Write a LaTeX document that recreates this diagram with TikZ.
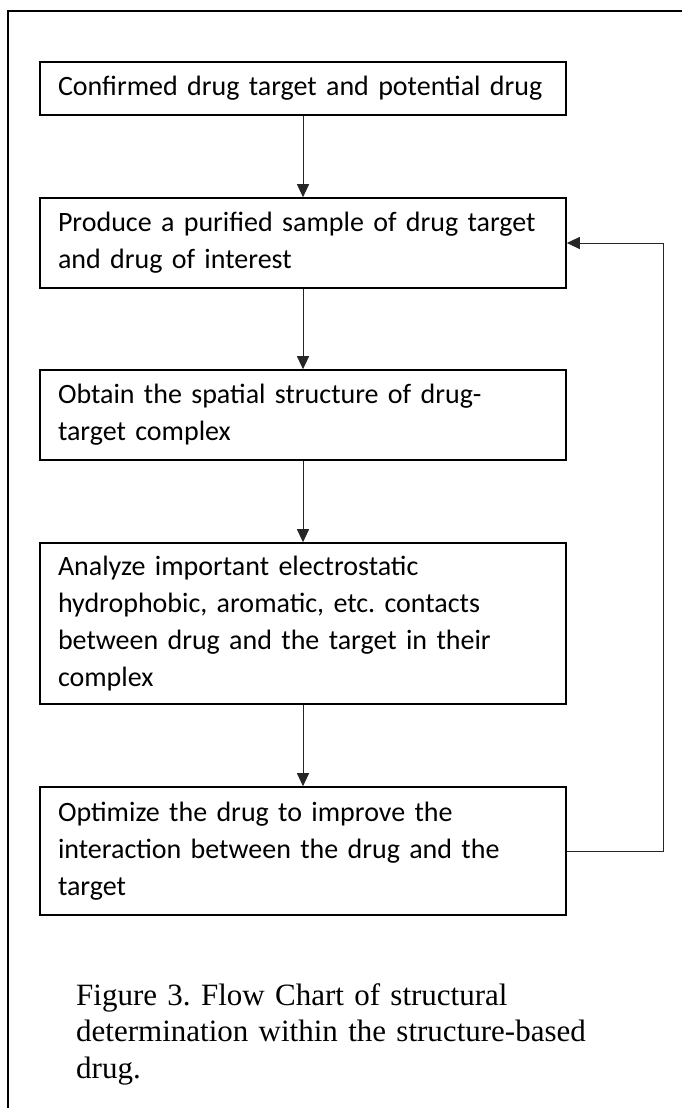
\documentclass[tikz,border=0pt]{standalone}
\usepackage{fontspec}
\newfontfamily\boxfont{Carlito}
\newfontfamily\capfont{Liberation Serif}
\usetikzlibrary{arrows.meta}
\frenchspacing
\begin{document}
\begin{tikzpicture}[x=1pt,y=-1pt,
  stepbox/.style={draw=black, line width=1.6pt, rectangle, minimum width=526pt,
    text width=490pt, inner xsep=18pt, inner ysep=0pt, align=left,
    font=\boxfont\fontsize{28}{36.7}\selectfont\frenchspacing},
  conn/.style={draw=black!85, line width=1pt, -{Triangle[width=12pt,length=13pt]}},
  frame/.style={draw=black, line width=1.6pt}
]
\useasboundingbox (0,0) rectangle (681,1108);
\draw[frame] (8,1110) -- (8,11) -- (683,11);
\node[stepbox, minimum height=53pt] (b1) at (303,88.5) {Confirmed drug target and potential drug};
\node[stepbox, minimum height=90pt] (b2) at (303,243) {Produce a purified sample of drug target\\and drug of interest};
\node[stepbox, minimum height=90pt] (b3) at (303,415) {Obtain the spatial structure of drug-\\target complex};
\node[stepbox, minimum height=161pt] (b4) at (303,623.5) {Analyze important electrostatic\\hydrophobic, aromatic, etc. contacts\\between drug and the target in their\\complex};
\node[stepbox, minimum height=128pt] (b5) at (303,851) {Optimize the drug to improve the\\interaction between the drug and the\\target};
\draw[conn] (b1.south) -- (b2.north);
\draw[conn] (b2.south) -- (b3.north);
\draw[conn] (b3.south) -- (b4.north);
\draw[conn] (b4.south) -- (b5.north);
\coordinate (fb) at (663,851);
\draw[conn] (b5.east) -- (fb) |- (b2.east);
\node[anchor=north west, inner sep=0pt, text width=580pt, align=left,
  font=\capfont\fontsize{31}{36.5}\selectfont\frenchspacing] (cap) at (76,983)
  {Figure 3. Flow Chart of structural\\determination within the structure-based\\drug.};
\end{tikzpicture}
\end{document}
